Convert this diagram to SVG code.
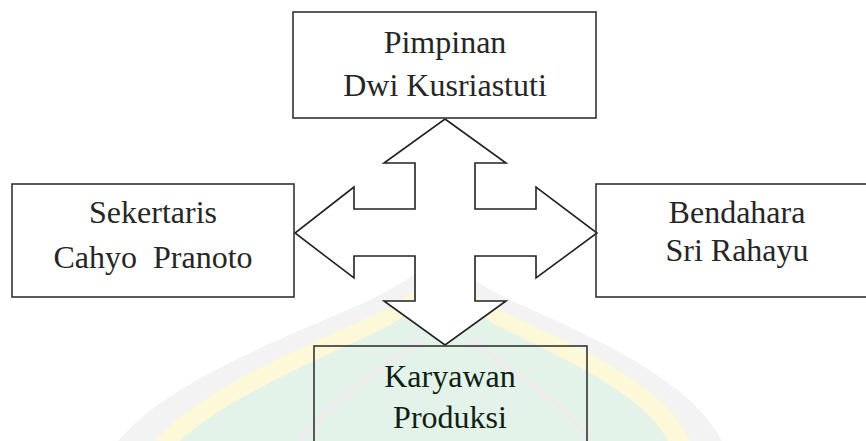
<svg xmlns="http://www.w3.org/2000/svg" width="866" height="441" viewBox="0 0 866 441">
<style>
.box{fill:none;stroke:#333;stroke-width:1.6}
.t{font-family:"Liberation Serif","Times New Roman",serif;font-size:32px;fill:#262626;text-anchor:middle;white-space:pre}
.k{fill:#0f1f14}
.arrow{fill:#fff;stroke:#222;stroke-width:1.6;stroke-linejoin:miter}
</style>
<rect width="866" height="441" fill="#fff"/>
<g id="watermark" opacity="0.75">
<path d="M118 441 C170 380 280 340 370 300 C400 285 425 268 440 256 C455 268 480 285 510 300 C600 340 690 380 722 441 Z" fill="#efefef"/>
<path d="M155 441 C205 385 300 350 380 312 C408 297 428 282 442 270 C456 282 476 297 504 312 C585 350 665 385 690 441 Z" fill="#fbf6cc"/>
<path d="M180 441 C230 395 315 362 390 325 C415 310 432 296 443 284 C454 296 471 310 496 325 C570 362 645 395 668 441 Z" fill="#dcf0e2"/>
<path d="M300 441 C330 400 380 370 420 340" fill="none" stroke="#e6e6e6" stroke-width="6"/>
<path d="M590 441 C560 400 510 370 470 340" fill="none" stroke="#e6e6e6" stroke-width="6"/>
</g>
<g id="connectors">
<polygon class="arrow" points="445,119 506,163 475,163 475,209 536,209 536,187 597,233 536,278 536,256 475,256 475,301 506,301 445,345 384,301 415,301 415,256 354,256 354,278 295,233 354,187 354,209 415,209 415,163 384,163"/>
</g>
<g id="pimpinan">
<rect class="box" x="293" y="12" width="303" height="106"/>
<text class="t" x="445" y="53">Pimpinan</text>
<text class="t" x="445" y="96">Dwi Kusriastuti</text>
</g>
<g id="sekertaris">
<rect class="box" x="12" y="184" width="282" height="113"/>
<text class="t" x="153" y="223">Sekertaris</text>
<text class="t" x="153" y="268">Cahyo  Pranoto</text>
</g>
<g id="bendahara">
<rect class="box" x="596" y="184" width="282" height="113"/>
<text class="t" x="737" y="223">Bendahara</text>
<text class="t" x="737" y="261">Sri Rahayu</text>
</g>
<g id="karyawan">
<rect class="box" x="314" y="346" width="273" height="120"/>
<text class="t k" x="450" y="387">Karyawan</text>
<text class="t k" x="450" y="428">Produksi</text>
</g>
</svg>
